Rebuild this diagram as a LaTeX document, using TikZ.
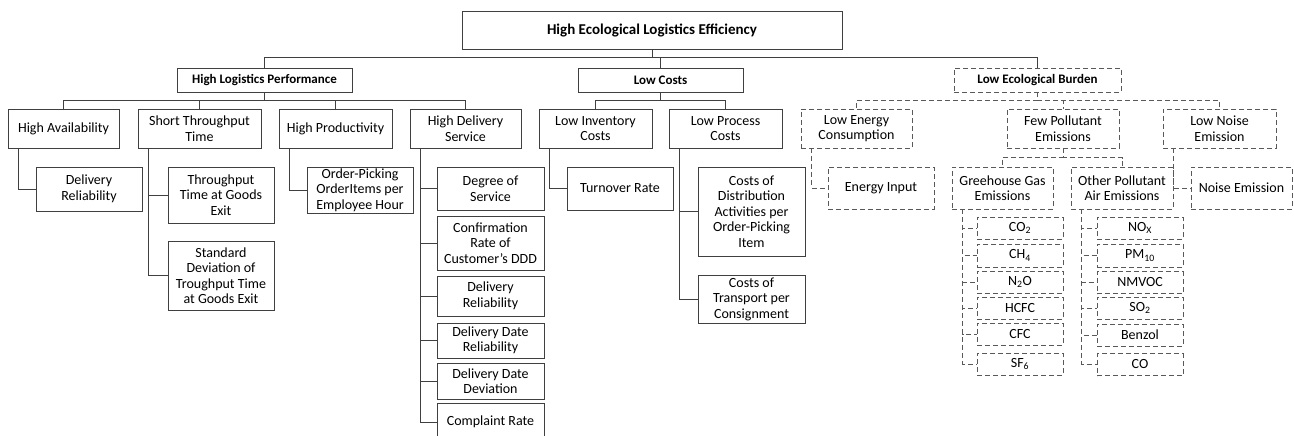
\documentclass[tikz,border=0pt]{standalone}
\usepackage{fontspec}
\setmainfont{Carlito}
\usetikzlibrary{calc}

\definecolor{linegray}{gray}{0.25}
\definecolor{dashgray}{gray}{0.35}

\tikzset{
  box/.style={draw=linegray, line width=0.9pt, align=center, inner sep=0pt,
    font=\fontsize{14}{15.5}\selectfont},
  dbox/.style={box, draw=dashgray, dash pattern=on 5pt off 3pt},
  head/.style={font=\fontsize{13}{15}\selectfont\bfseries},
  wh/.style 2 args={minimum width=#1pt, minimum height=#2pt},
  edge/.style={draw=linegray, line width=0.9pt},
  dedge/.style={draw=dashgray, line width=0.9pt, dash pattern=on 5pt off 3pt},
}

\begin{document}
\begin{tikzpicture}[x=1pt, y=-1pt]
\useasboundingbox (0,0) rectangle (1294,436);

% goal
\node[box, wh={380}{38}, font=\fontsize{15}{16}\selectfont\bfseries] (top) at (652,30) {High Ecological Logistics Efficiency};

% targets
\node[box, head, wh={175}{24}] (hlp) at (264.5,80) {High Logistics Performance};
\node[box, head, wh={165}{24}] (lc) at (660.5,80) {Low Costs};
\node[dbox, head, wh={167}{24}] (leb) at (1037.5,80) {Low Ecological Burden};

\foreach \c in {hlp,lc,leb}
  \draw[edge] (top.south) |- ([yshift=10pt]\c.north) -- (\c.north);

% sub-targets
\node[box, wh={111}{39}] (hav) at (63.5,128.5) {High Availability};
\node[box, wh={123}{39}] (stt) at (199.5,128.5) {Short Throughput\\Time};
\node[box, wh={113}{39}] (hpr) at (335.5,128.5) {High Productivity};
\node[box, wh={111}{39}] (hds) at (465.5,128.5) {High Delivery\\Service};
\node[box, wh={113}{39}] (lic) at (595.5,128.5) {Low Inventory\\Costs};
\node[box, wh={113}{39}] (lpc) at (725.5,128.5) {Low Process\\Costs};
\node[dbox, wh={111}{39}] (lec) at (856.5,128.5) {Low Energy\\Consumption};
\node[dbox, wh={112}{39}] (fpe) at (1063,128.5) {Few Pollutant\\Emissions};
\node[dbox, wh={113}{39}] (lne) at (1219.5,128.5) {Low Noise\\Emission};

\foreach \c in {hav,stt,hpr,hds}
  \draw[edge] (hlp.south) |- ([yshift=8pt]\c.north) -- (\c.north);
\foreach \c in {lic,lpc}
  \draw[edge] (lc.south) |- ([yshift=8pt]\c.north) -- (\c.north);
\foreach \c in {lec,fpe,lne}
  \draw[dedge] (leb.south) |- ([yshift=8pt]\c.north) -- (\c.north);

% pollutant groups
\node[dbox, wh={101}{42}] (gge) at (1002.5,188) {Greehouse Gas\\Emissions};
\node[dbox, wh={102}{42}] (ope) at (1122,188) {Other Pollutant\\Air Emissions};
\foreach \c in {gge,ope}
  \draw[dedge] (fpe.south) |- ([yshift=9pt]\c.north) -- (\c.north);

% indicators
\node[box, wh={106}{44}] (dr1) at (89,189) {Delivery\\Reliability};
\node[box, wh={106}{56}] (tte) at (221,195) {Throughput\\Time at Goods\\Exit};
\node[box, wh={106}{69}] (sdt) at (221,275.5) {Standard\\Deviation of\\Troughput Time\\at Goods Exit};
\node[box, wh={106}{46}] (opi) at (360,190) {Order-Picking\\OrderItems per\\Employee Hour};
\node[box, wh={107}{43}] (dos) at (490.5,188.5) {Degree of\\Service};
\node[box, wh={107}{54}] (crc) at (490.5,243) {Confirmation\\Rate of\\Customer’s DDD};
\node[box, wh={107}{40}] (dr2) at (490.5,296) {Delivery\\Reliability};
\node[box, wh={107}{35}] (ddr) at (490.5,340.5) {Delivery Date\\Reliability};
\node[box, wh={107}{36}] (ddd) at (490.5,381) {Delivery Date\\Deviation};
\node[box, wh={107}{38}] (cpr) at (490.5,422) {Complaint Rate};
\node[box, wh={106}{43}] (tor) at (620,188.5) {Turnover Rate};
\node[box, wh={107}{89}] (cda) at (751.5,211.5) {Costs of\\Distribution\\Activities per\\Order-Picking\\Item};
\node[box, wh={107}{48}] (ctc) at (751.5,299) {Costs of\\Transport per\\Consignment};
\node[dbox, wh={106}{42}] (ein) at (881,188) {Energy Input};
\node[dbox, wh={101}{42}] (nem) at (1241.5,188) {Noise Emission};

% gases
\def\gx{1020}
\def\ox{1140}
\node[dbox, wh={86}{22}] (co2) at (\gx,228) {CO\textsubscript{2}};
\node[dbox, wh={86}{23}] (ch4) at (\gx,255.5) {CH\textsubscript{4}};
\node[dbox, wh={86}{22}] (n2o) at (\gx,282) {N\textsubscript{2}O};
\node[dbox, wh={86}{22}] (hcfc) at (\gx,308) {HCFC};
\node[dbox, wh={86}{22}] (cfc) at (\gx,334) {CFC};
\node[dbox, wh={86}{22}] (sf6) at (\gx,364) {SF\textsubscript{6}};
\node[dbox, wh={86}{22}] (nox) at (\ox,228) {NO\textsubscript{X}};
\node[dbox, wh={86}{23}] (pm10) at (\ox,255.5) {PM\textsubscript{10}};
\node[dbox, wh={86}{22}] (nmvoc) at (\ox,282.5) {NMVOC};
\node[dbox, wh={86}{22}] (so2) at (\ox,308) {SO\textsubscript{2}};
\node[dbox, wh={86}{22}] (benz) at (\ox,335) {Benzol};
\node[dbox, wh={86}{22}] (co) at (\ox,364.5) {CO};

% side branches
\foreach \p in {hav,stt,hpr,hds,lic,lpc,lec,lne,gge,ope}
  \coordinate (\p-s) at ([xshift=11pt]\p.south west);

\draw[edge] (hav-s) |- (dr1.west);
\foreach \c in {tte,sdt}
  \draw[edge] (stt-s) |- (\c.west);
\draw[edge] (hpr-s) |- (opi.west);
\foreach \c in {dos,crc,dr2,ddr,ddd,cpr}
  \draw[edge] (hds-s) |- (\c.west);
\draw[edge] (lic-s) |- (tor.west);
\foreach \c in {cda,ctc}
  \draw[edge] (lpc-s) |- (\c.west);
\draw[dedge] (lec-s) |- (ein.west);
\draw[dedge] (lne-s) |- (nem.west);
\foreach \c in {co2,ch4,n2o,hcfc,cfc,sf6}
  \draw[dedge] (gge-s) |- (\c.west);
\foreach \c in {nox,pm10,nmvoc,so2,benz,co}
  \draw[dedge] (ope-s) |- (\c.west);

\end{tikzpicture}
\end{document}
